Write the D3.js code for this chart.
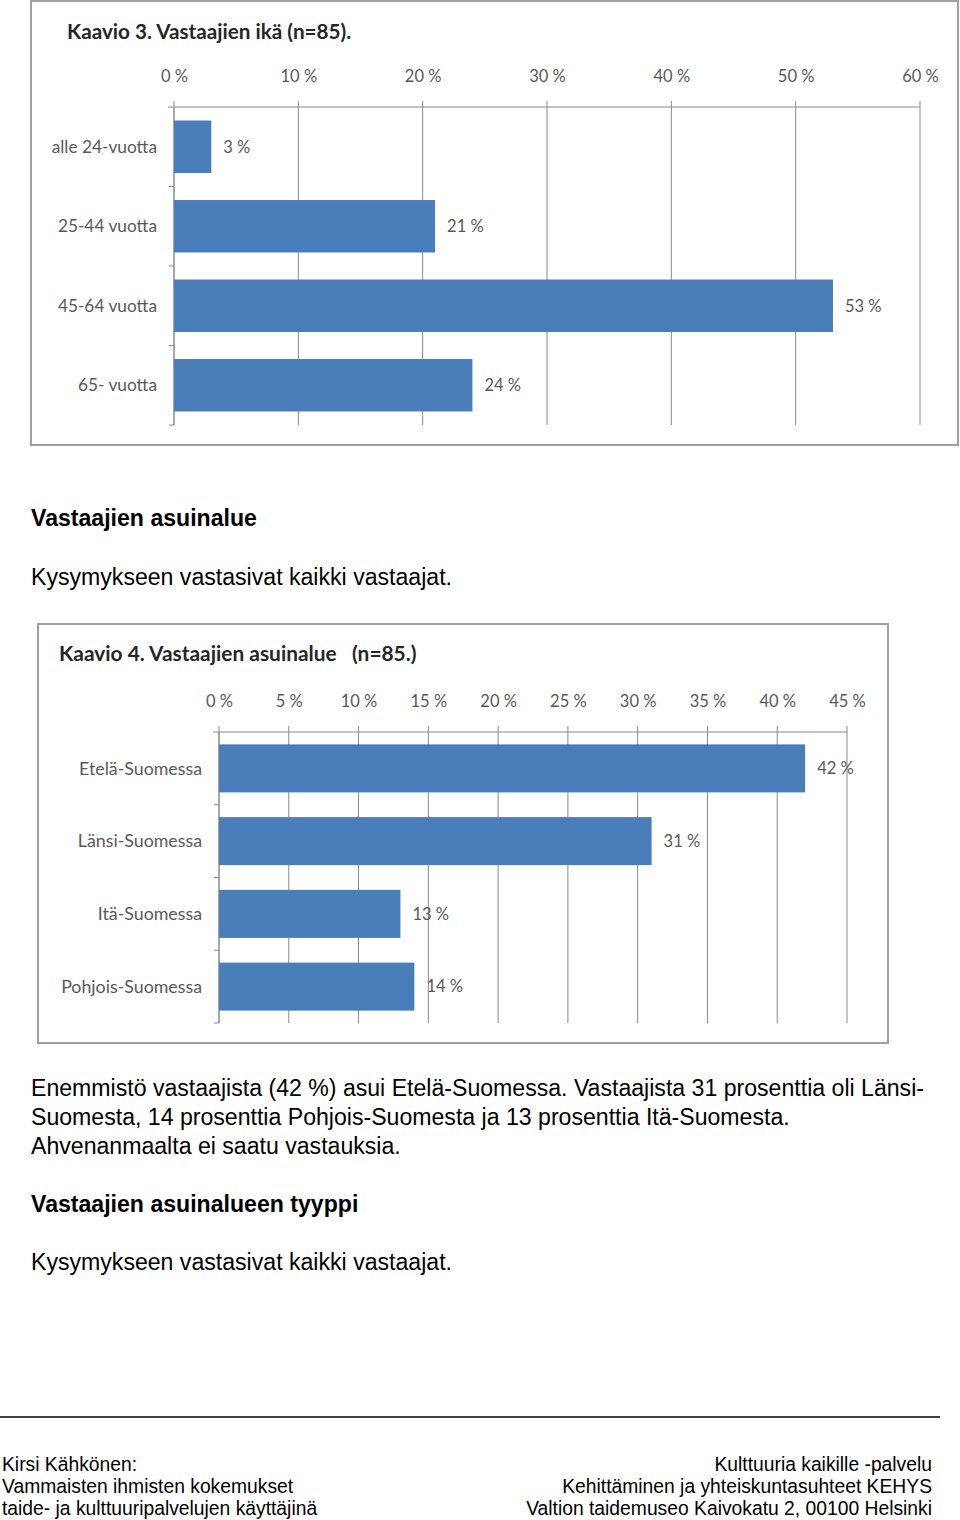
<!DOCTYPE html>
<html><head><meta charset="utf-8">
<script src="https://cdn.jsdelivr.net/npm/d3@7"></script>
<style>body{margin:0;background:#fff}svg{display:block}</style>
</head><body>
<script>
// ---- data ----
const ageCategories = ["alle 24-vuotta", "25-44 vuotta", "45-64 vuotta", "65- vuotta"];
const ageValues = [3, 21, 53, 24];
const ageTicks = [0, 10, 20, 30, 40, 50, 60];
const ageTitle = "Kaavio 3. Vastaajien ikä (n=85).";

const regionCategories = ["Etelä-Suomessa", "Länsi-Suomessa", "Itä-Suomessa", "Pohjois-Suomessa"];
const regionValues = [42, 31, 13, 14];
const regionTicks = [0, 5, 10, 15, 20, 25, 30, 35, 40, 45];
const regionTitle = "Kaavio 4. Vastaajien asuinalue   (n=85.)";

const svg = d3.select("body").append("svg").attr("width", 960).attr("height", 1520);
const chartFont = "Lato, 'Open Sans', sans-serif";
const bodyFont = "'Liberation Sans', Arial, sans-serif";
const barColor = "#4a7ebb";
const gridColor = "#8a8a8a";
const labelColor = "#595959";

function drawChart(cfg) {
  const g = svg.append("g");
  g.append("rect").attr("x", cfg.frame[0]).attr("y", cfg.frame[1])
    .attr("width", cfg.frame[2]).attr("height", cfg.frame[3])
    .attr("fill", "#fff").attr("stroke", "#a0a0a0").attr("stroke-width", 2);
  g.append("text").attr("x", cfg.titleX).attr("y", cfg.titleY).attr("dy", "0.35em")
    .attr("font-family", chartFont).attr("font-weight", "bold").attr("font-size", cfg.titleSize)
    .attr("fill", "#262626").style("white-space", "pre").text(cfg.title);

  const x = d3.scaleLinear().domain([0, cfg.ticks[cfg.ticks.length - 1]]).range([cfg.x0, cfg.x1]);
  const y = d3.scaleBand().domain(cfg.cats).range([cfg.y0, cfg.y1]).paddingInner(0.34).paddingOuter(0.17);

  g.append("g").selectAll("line").data(cfg.ticks).join("line")
    .attr("x1", d => x(d)).attr("x2", d => x(d))
    .attr("y1", cfg.y0 - 6).attr("y2", cfg.y1)
    .attr("stroke", gridColor).attr("stroke-width", 1);
  const ax = g.append("g").attr("transform", `translate(0,${cfg.y0})`)
    .call(d3.axisTop(x).tickValues(cfg.ticks).tickFormat(d => d + " %").tickSize(0).tickPadding(25));
  ax.select(".domain").remove();
  ax.selectAll("text").attr("font-family", chartFont).attr("font-size", 16.5).attr("fill", labelColor);
  g.append("line").attr("x1", cfg.x0 - 6).attr("x2", cfg.x1).attr("y1", cfg.y0).attr("y2", cfg.y0)
    .attr("stroke", gridColor);
  g.append("line").attr("x1", cfg.x0).attr("x2", cfg.x0).attr("y1", cfg.y0).attr("y2", cfg.y1)
    .attr("stroke", gridColor);
  const bounds = cfg.cats.slice(1).map(c => y(c) - y.step() * y.paddingInner() / 2).concat([cfg.y1]);
  g.append("g").selectAll("line").data(bounds).join("line")
    .attr("x1", cfg.x0 - 5).attr("x2", cfg.x0).attr("y1", d => d).attr("y2", d => d)
    .attr("stroke", gridColor);
  g.append("g").selectAll("rect").data(cfg.vals).join("rect")
    .attr("x", x(0)).attr("y", (d, i) => y(cfg.cats[i]))
    .attr("width", d => x(d) - x(0)).attr("height", y.bandwidth())
    .attr("fill", barColor);
  g.append("g").selectAll("text").data(cfg.vals).join("text")
    .attr("x", d => x(d) + 12).attr("y", (d, i) => y(cfg.cats[i]) + y.bandwidth() / 2).attr("dy", "0.35em")
    .attr("font-family", chartFont).attr("font-size", 16.5).attr("fill", labelColor)
    .text(d => d + " %");
  g.append("g").selectAll("text").data(cfg.cats).join("text")
    .attr("x", cfg.x0 - 17).attr("y", d => y(d) + y.bandwidth() / 2).attr("dy", "0.35em")
    .attr("text-anchor", "end")
    .attr("font-family", chartFont).attr("font-size", cfg.catSize).attr("fill", labelColor)
    .text(d => d);
}

drawChart({frame: [31, 1, 927, 444], title: ageTitle, titleX: 67, titleY: 32, titleSize: 20.7, catSize: 17.3,
  cats: ageCategories, vals: ageValues, ticks: ageTicks,
  x0: 174, x1: 920, y0: 107, y1: 425});
drawChart({frame: [38, 624, 850, 419], title: regionTitle, titleX: 59, titleY: 654, titleSize: 20.9, catSize: 17.8,
  cats: regionCategories, vals: regionValues, ticks: regionTicks,
  x0: 219, x1: 847, y0: 732, y1: 1023});

const texts = [
  {t: "Vastaajien asuinalue", y: 518, b: true},
  {t: "Kysymykseen vastasivat kaikki vastaajat.", y: 577},
  {t: "Enemmistö vastaajista (42 %) asui Etelä-Suomessa. Vastaajista 31 prosenttia oli Länsi-", y: 1088},
  {t: "Suomesta, 14 prosenttia Pohjois-Suomesta ja 13 prosenttia Itä-Suomesta.", y: 1117},
  {t: "Ahvenanmaalta ei saatu vastauksia.", y: 1146},
  {t: "Vastaajien asuinalueen tyyppi", y: 1204, b: true},
  {t: "Kysymykseen vastasivat kaikki vastaajat.", y: 1262}
];
svg.append("g").selectAll("text").data(texts).join("text")
  .attr("x", 31).attr("y", d => d.y).attr("dy", "0.35em")
  .attr("font-family", bodyFont).attr("font-size", 23.1).attr("fill", "#000")
  .attr("font-weight", d => d.b ? "bold" : "normal").text(d => d.t);

svg.append("line").attr("x1", 0).attr("x2", 940).attr("y1", 1417).attr("y2", 1417)
  .attr("stroke", "#000").attr("stroke-width", 1.5);

const footerLeft = ["Kirsi Kähkönen:", "Vammaisten ihmisten kokemukset", "taide- ja kulttuuripalvelujen käyttäjinä"];
const footerRight = ["Kulttuuria kaikille -palvelu", "Kehittäminen ja yhteiskuntasuhteet KEHYS", "Valtion taidemuseo Kaivokatu 2, 00100 Helsinki"];
const footerY = [1464, 1486, 1508];
svg.append("g").selectAll("text").data(footerLeft).join("text")
  .attr("x", 2).attr("y", (d, i) => footerY[i]).attr("dy", "0.35em")
  .attr("font-family", bodyFont).attr("font-size", 19.3).text(d => d);
svg.append("g").selectAll("text").data(footerRight).join("text")
  .attr("x", 932).attr("y", (d, i) => footerY[i]).attr("dy", "0.35em").attr("text-anchor", "end")
  .attr("font-family", bodyFont).attr("font-size", 19.3).text(d => d);
</script>
</body></html>
